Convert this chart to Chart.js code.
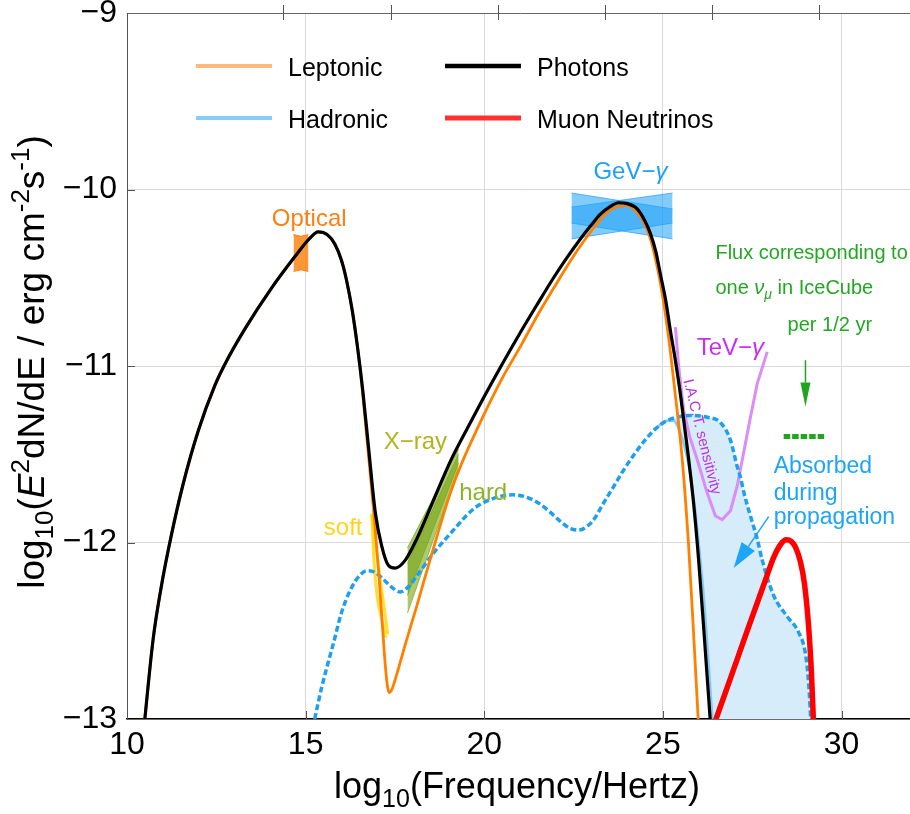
<!DOCTYPE html>
<html>
<head>
<meta charset="utf-8">
<title>Spectral energy distribution</title>
<script src="https://cdn.jsdelivr.net/npm/chart.js@4.4.1/dist/chart.umd.min.js"></script>
<style>
  html, body { margin: 0; padding: 0; background: #fff; overflow: hidden; }
</style>
</head>
<body>
<canvas id="sed" width="913" height="814"></canvas>
<script>
const FONT = "'Liberation Sans', Arial, Helvetica, sans-serif";

// axis ticks
const xTicks = [10, 15, 20, 25, 30];
const yTicks = [-13, -12, -11, -10, -9];
// photon energy decades (1 eV, 1 keV, 1 MeV ...) marked along the top edge
const energyTicks = [14.38, 17.38, 20.38, 23.38, 26.38, 29.38];

// model curves, [log10(nu/Hz), log10(E^2 dN/dE)]
const photons = [
  [10.45, -13.10], [10.73, -12.55], [10.96, -12.25], [11.24, -11.96], [11.57, -11.67],
  [11.99, -11.37], [12.46, -11.11], [12.74, -10.99], [13.30, -10.79], [14.04, -10.56],
  [14.70, -10.38], [15.10, -10.28], [15.35, -10.24], [15.60, -10.255], [15.82, -10.31],
  [16.00, -10.40], [16.14, -10.51], [16.30, -10.68], [16.45, -10.89], [16.60, -11.14],
  [16.76, -11.46], [16.95, -11.83], [17.13, -12.02], [17.32, -12.13], [17.51, -12.145],
  [17.79, -12.10], [18.11, -11.98], [18.58, -11.76], [19.05, -11.54], [19.52, -11.355],
  [19.98, -11.18], [20.50, -10.99], [21.01, -10.81], [21.50, -10.645], [21.94, -10.50],
  [22.30, -10.39], [22.69, -10.28], [23.00, -10.20], [23.25, -10.14], [23.50, -10.10],
  [23.76, -10.075], [24.00, -10.08], [24.28, -10.11], [24.50, -10.18], [24.65, -10.25],
  [24.80, -10.35], [24.93, -10.48], [25.08, -10.63], [25.21, -10.80], [25.35, -10.97],
  [25.49, -11.16], [25.68, -11.46], [25.86, -11.78], [26.00, -12.10], [26.14, -12.48],
  [26.34, -13.05]
];
const leptonic = [
  [10.45, -13.10], [10.73, -12.55], [10.96, -12.25], [11.24, -11.96], [11.57, -11.67],
  [11.99, -11.37], [12.46, -11.11], [12.74, -10.99], [13.30, -10.79], [14.04, -10.56],
  [14.70, -10.38], [15.10, -10.28], [15.35, -10.24], [15.60, -10.255], [15.82, -10.31],
  [16.00, -10.40], [16.14, -10.51], [16.30, -10.68], [16.45, -10.89], [16.57, -11.10],
  [16.70, -11.38], [16.83, -11.66], [16.95, -11.93], [17.06, -12.21], [17.20, -12.62],
  [17.28, -12.80], [17.34, -12.85], [17.42, -12.83], [17.56, -12.74], [17.80, -12.57],
  [18.11, -12.36], [18.58, -12.03], [19.05, -11.72], [19.33, -11.57], [19.98, -11.28],
  [20.50, -11.07], [21.01, -10.89], [21.50, -10.71], [21.94, -10.56], [22.30, -10.44],
  [22.69, -10.32], [23.00, -10.235], [23.25, -10.17], [23.50, -10.12], [23.76, -10.095],
  [24.00, -10.09], [24.28, -10.13], [24.50, -10.20], [24.65, -10.28], [24.80, -10.40],
  [24.93, -10.53], [25.08, -10.72], [25.21, -10.92], [25.38, -11.22], [25.55, -11.55],
  [25.72, -12.02], [25.86, -12.52], [26.00, -13.05]
];
const hadronic = [
  [15.20, -13.05], [15.45, -12.82], [15.63, -12.68], [15.78, -12.57], [16.00, -12.40],
  [16.25, -12.27], [16.50, -12.19], [16.71, -12.16], [16.95, -12.17], [17.18, -12.21],
  [17.45, -12.26], [17.65, -12.28], [17.88, -12.25], [18.11, -12.19], [18.58, -12.06],
  [19.05, -11.95], [19.70, -11.81], [20.26, -11.75], [20.82, -11.73], [21.38, -11.76],
  [21.80, -11.82], [22.13, -11.88], [22.40, -11.92], [22.64, -11.93], [22.90, -11.905],
  [23.10, -11.86], [23.30, -11.79], [23.60, -11.69], [23.90, -11.59], [24.20, -11.50],
  [24.50, -11.42], [24.80, -11.355], [25.10, -11.31], [25.40, -11.29], [25.77, -11.28],
  [26.24, -11.29], [26.61, -11.32], [26.89, -11.42], [27.08, -11.57], [27.17, -11.63],
  [27.27, -11.72], [27.45, -11.85], [27.64, -11.98], [27.78, -12.10], [28.10, -12.30],
  [28.48, -12.42], [28.80, -12.51], [28.99, -12.63], [29.08, -12.80], [29.15, -13.05]
];
// hadronic photons surviving absorption
const hadronicAbsorbed = [
  [24.80, -11.355], [25.10, -11.31], [25.30, -11.31], [25.45, -11.36], [25.58, -11.44],
  [25.72, -11.56], [25.87, -11.76], [26.00, -12.00], [26.15, -12.32], [26.28, -12.68],
  [26.40, -13.05]
];
const neutrinos = [
  [26.40, -13.05], [26.60, -12.935], [26.89, -12.77], [27.36, -12.50], [27.83, -12.235],
  [28.11, -12.08], [28.30, -12.01], [28.45, -11.985], [28.60, -11.995], [28.72, -12.03],
  [28.85, -12.11], [28.96, -12.23], [29.08, -12.48], [29.16, -12.75], [29.22, -13.05]
];
const tevSensitivity = [
  [25.35, -10.78], [25.44, -11.00], [25.58, -11.25], [25.75, -11.40], [25.96, -11.53],
  [26.24, -11.72], [26.47, -11.85], [26.66, -11.87], [26.89, -11.82], [27.08, -11.68],
  [27.27, -11.48], [27.45, -11.29], [27.64, -11.10], [27.92, -10.92]
];

// observations: bow-ties given as upper / lower edges
const opticalTop = [[14.66, -10.255], [14.87, -10.265], [15.08, -10.255]];
const opticalBottom = [[14.66, -10.465], [14.87, -10.455], [15.08, -10.465]];
const softXrayA = [[16.84, -11.84], [17.30, -12.52]];
const softXrayB = [[16.86, -11.84], [16.90, -12.06], [17.24, -12.54]];
const hardXrayTopA = [[17.85, -12.03], [19.28, -11.47]];
const hardXrayBottomA = [[17.85, -12.30], [19.28, -11.55]];
const hardXrayTopB = [[17.85, -12.12], [19.28, -11.50]];
const hardXrayBottomB = [[17.85, -12.40], [19.28, -11.58]];
const gevTopA = [[22.44, -10.02], [25.27, -10.11]];
const gevBottomA = [[22.44, -10.19], [25.27, -10.28]];
const gevTopB = [[22.44, -10.10], [25.27, -10.02]];
const gevBottomB = [[22.44, -10.28], [25.27, -10.19]];
// one muon neutrino in IceCube per half year
const icecubeFlux = [[28.38, -11.40], [29.55, -11.40]];

const pts = arr => arr.map(([x, y]) => ({ x, y }));

// absorbed part: between the intrinsic hadronic curve and what survives
const absorbedUpper = hadronic.filter(p => p[0] >= 25.10);
const absorbedLower = hadronicAbsorbed.filter(p => p[0] >= 25.10).concat([[29.15, -13.05]]);

function curve(data, color, width, order, extra) {
  return Object.assign({
    data: pts(data), showLine: true, borderColor: color, borderWidth: width,
    pointRadius: 0, fill: false, order: order, cubicInterpolationMode: 'monotone'
  }, extra || {});
}
function band(top, bottom, fillColor, edgeColor, order) {
  return [
    { data: pts(top), showLine: true, borderColor: edgeColor, borderWidth: 1, pointRadius: 0,
      backgroundColor: fillColor, fill: '+1', order: order },
    { data: pts(bottom), showLine: true, borderColor: edgeColor, borderWidth: 1, pointRadius: 0,
      fill: false, order: order }
  ];
}

const datasets = [
  curve(absorbedUpper, 'rgba(0,0,0,0)', 0, 20, { backgroundColor: '#d6ecfb', fill: '+1' }),
  curve(absorbedLower, 'rgba(0,0,0,0)', 0, 20, { tension: 0 }),
  ...band(gevTopA, gevBottomA, 'rgba(30,160,245,0.55)', 'rgba(30,160,245,0.7)', 15),
  ...band(gevTopB, gevBottomB, 'rgba(30,160,245,0.55)', 'rgba(30,160,245,0.7)', 15),
  ...band(opticalTop, opticalBottom, 'rgba(255,120,0,0.78)', 'rgba(255,120,0,0.85)', 15),
  ...band(hardXrayTopA, hardXrayBottomA, 'rgba(120,165,20,0.6)', 'rgba(120,165,20,0.7)', 15),
  ...band(hardXrayTopB, hardXrayBottomB, 'rgba(120,165,20,0.6)', 'rgba(120,165,20,0.7)', 15),
  curve(softXrayA, 'rgba(255,215,0,0.8)', 3, 14, { tension: 0 }),
  curve(softXrayB, 'rgba(255,215,0,0.8)', 3, 14, { tension: 0 }),
  curve(tevSensitivity, '#dc8cf7', 3, 12, { tension: 0, cubicInterpolationMode: 'default' }),
  curve(hadronicAbsorbed, '#84c9f2', 2.5, 11),
  curve(hadronic, '#1ea0ee', 3.5, 10, { borderDash: [6, 3] }),
  curve(leptonic, '#ff7f00', 2.8, 6),
  curve(photons, '#000000', 3.2, 5),
  curve(neutrinos, '#ff0000', 5.5, 4),
  curve(icecubeFlux, '#1fa51f', 5, 3, { tension: 0, borderDash: [6.5, 2], borderCapStyle: 'butt' })
];

// text placed on the plot, anchored in data units
const notes = [
  { parts: [{ t: 'Optical' }], at: [15.10, -10.157], size: 24, color: '#ff7f11', align: 'center' },
  { parts: [{ t: 'GeV\u2212' }, { t: '\u03b3', it: true }], at: [24.09, -9.89], size: 24, color: '#1ea1f2', align: 'center' },
  { parts: [{ t: 'X\u2212ray' }], at: [18.07, -11.42], size: 24, color: '#b4b41e', align: 'center' },
  { parts: [{ t: 'hard' }], at: [19.97, -11.71], size: 24, color: '#8cb42d', align: 'center' },
  { parts: [{ t: 'soft' }], at: [16.05, -11.91], size: 24, color: '#ffd31f', align: 'center' },
  { parts: [{ t: 'TeV\u2212' }, { t: '\u03b3', it: true }], at: [26.89, -10.89], size: 24, color: '#cc2ef0', align: 'center' },
  { parts: [{ t: 'I.A.C.T. sensitivity' }], at: [26.12, -11.40], size: 15, color: '#c030e0', align: 'center', angle: 76 },
  { parts: [{ t: 'Flux corresponding to' }], at: [26.47, -10.355], size: 20, color: '#22a822', align: 'left' },
  { parts: [{ t: 'one ' }, { t: '\u03bd', it: true }, { t: '\u03bc', it: true, sub: true }, { t: ' in IceCube' }], at: [26.47, -10.553], size: 20, color: '#22a822', align: 'left' },
  { parts: [{ t: 'per 1/2 yr' }], at: [28.49, -10.763], size: 20, color: '#22a822', align: 'left' },
  { parts: [{ t: 'Absorbed' }], at: [28.10, -11.56], size: 23, color: '#1ea5f5', align: 'left' },
  { parts: [{ t: 'during' }], at: [28.10, -11.71], size: 23, color: '#1ea5f5', align: 'left' },
  { parts: [{ t: 'propagation' }], at: [28.10, -11.85], size: 23, color: '#1ea5f5', align: 'left' }
];
const arrows = [
  { from: [28.99, -10.967], to: [28.99, -11.23], head: 24, half: 5, color: '#1fa51f', width: 1.5 },
  { from: [27.96, -11.853], to: [26.98, -12.145], head: 26, half: 8, color: '#1ea5f5', width: 1.5 }
];
const legendItems = [
  { label: 'Leptonic', color: '#fdb97c', width: 4, col: 0, row: 0 },
  { label: 'Hadronic', color: '#86cdf9', width: 4, col: 0, row: 1 },
  { label: 'Photons', color: '#000000', width: 4.5, col: 1, row: 0 },
  { label: 'Muon Neutrinos', color: '#ff3030', width: 5, col: 1, row: 1 }
];

function drawParts(ctx, parts, x, y, size, color, align) {
  const fontFor = p => (p.it ? 'italic ' : '') + ((p.sub || p.sup) ? Math.round(size * 0.7) : size) + 'px ' + FONT;
  let w = 0;
  for (const p of parts) { ctx.font = fontFor(p); w += ctx.measureText(p.t).width; }
  let cx = align === 'center' ? x - w / 2 : align === 'right' ? x - w : x;
  const base = y + size * 0.36;
  ctx.fillStyle = color;
  ctx.textAlign = 'left';
  ctx.textBaseline = 'alphabetic';
  for (const p of parts) {
    ctx.font = fontFor(p);
    const dy = p.sup ? -size * 0.42 : p.sub ? size * 0.24 : 0;
    ctx.fillText(p.t, cx, base + dy);
    cx += ctx.measureText(p.t).width;
  }
}

function drawArrow(ctx, x0, y0, x1, y1, head, half, color, width) {
  const a = Math.atan2(y1 - y0, x1 - x0);
  const bx = x1 - head * Math.cos(a), by = y1 - head * Math.sin(a);
  ctx.strokeStyle = color;
  ctx.fillStyle = color;
  ctx.lineWidth = width;
  ctx.beginPath();
  ctx.moveTo(x0, y0);
  ctx.lineTo(bx, by);
  ctx.stroke();
  ctx.beginPath();
  ctx.moveTo(x1, y1);
  ctx.lineTo(bx + half * Math.sin(a), by - half * Math.cos(a));
  ctx.lineTo(bx - half * Math.sin(a), by + half * Math.cos(a));
  ctx.closePath();
  ctx.fill();
}

// inward tick marks, top frame, labels, legend and axis titles
const decorations = {
  id: 'decorations',
  afterDatasetsDraw(chart) {
    const { ctx, chartArea: area, scales } = chart;
    const x = scales.x, y = scales.y, top = scales.xTop;
    ctx.save();

    ctx.lineWidth = 1;
    ctx.beginPath();
    for (const v of xTicks) {
      if (v <= x.min) continue;
      const px = Math.round(x.getPixelForValue(v)) + 0.5;
      ctx.moveTo(px, area.bottom); ctx.lineTo(px, area.bottom - 8);
    }
    for (const v of yTicks) {
      if (v <= y.min || v >= y.max) continue;
      const py = Math.round(y.getPixelForValue(v)) + 0.5;
      ctx.moveTo(area.left, py); ctx.lineTo(area.left + 8, py);
    }
    for (const t of top.ticks) {
      const px = Math.round(top.getPixelForValue(t.value)) + 0.5;
      ctx.moveTo(px, area.top - 8); ctx.lineTo(px, area.top + 7);
    }
    ctx.strokeStyle = '#555';
    ctx.stroke();

    for (const n of notes) {
      const px = x.getPixelForValue(n.at[0]);
      const py = y.getPixelForValue(n.at[1]);
      ctx.save();
      ctx.translate(px, py);
      if (n.angle) ctx.rotate(n.angle * Math.PI / 180);
      drawParts(ctx, n.parts, 0, 0, n.size, n.color, n.align);
      ctx.restore();
    }

    for (const a of arrows) {
      drawArrow(ctx, x.getPixelForValue(a.from[0]), y.getPixelForValue(a.from[1]),
        x.getPixelForValue(a.to[0]), y.getPixelForValue(a.to[1]), a.head, a.half, a.color, a.width);
    }

    for (const item of legendItems) {
      const lx = area.left + (item.col ? 318 : 69);
      const ly = area.top + (item.row ? 105 : 53);
      ctx.strokeStyle = item.color;
      ctx.lineWidth = item.width;
      ctx.beginPath();
      ctx.moveTo(lx, ly); ctx.lineTo(lx + 76, ly);
      ctx.stroke();
      drawParts(ctx, [{ t: item.label }], lx + 92, ly + 1, 25, '#000', 'left');
    }

    drawParts(ctx, [{ t: 'log' }, { t: '10', sub: true }, { t: '(Frequency/Hertz)' }],
      (area.left + area.right) / 2 - 3, 785, 36, '#000', 'center');

    ctx.translate(31, (area.top + area.bottom) / 2 - 4);
    ctx.rotate(-Math.PI / 2);
    drawParts(ctx, [{ t: 'log' }, { t: '10', sub: true }, { t: '(' }, { t: 'E', it: true }, { t: '2', sup: true },
      { t: 'dN/dE / erg cm' }, { t: '-2', sup: true }, { t: 's' }, { t: '-1', sup: true }, { t: ')' }],
      0, 0, 37, '#000', 'center');
    ctx.restore();
  }
};

const fmt = v => (v < 0 ? '\u2212' + Math.abs(v) : String(v));
// let the outer tick labels hang over the edges instead of shrinking the plot
const noEdgePadding = s => { s.paddingTop = 0; s.paddingBottom = 0; s.paddingLeft = 0; s.paddingRight = 0; };

new Chart(document.getElementById('sed'), {
  type: 'scatter',
  data: { datasets: datasets },
  options: {
    responsive: false,
    animation: false,
    devicePixelRatio: 1,
    events: [],
    layout: { padding: 0 },
    plugins: { legend: { display: false }, tooltip: { enabled: false } },
    scales: {
      x: {
        type: 'linear', position: 'bottom', min: 10, max: 32,
        afterBuildTicks: s => { s.ticks = xTicks.map(v => ({ value: v })); },
        afterFit: s => { s.height = 95; noEdgePadding(s); },
        ticks: { callback: fmt, color: '#000', padding: 7, maxRotation: 0, font: { size: 32, family: FONT } },
        grid: { color: '#d9d9d9', lineWidth: 1, drawTicks: false },
        border: { color: '#000', width: 1.5 }
      },
      xTop: {
        type: 'linear', position: 'top', min: 10, max: 32,
        afterBuildTicks: s => { s.ticks = energyTicks.map(v => ({ value: v })); },
        afterFit: s => { s.height = 13; noEdgePadding(s); },
        ticks: { display: false },
        grid: { display: false, drawTicks: false },
        border: { color: '#666', width: 1 }
      },
      y: {
        type: 'linear', position: 'left', min: -13, max: -9,
        afterBuildTicks: s => { s.ticks = yTicks.map(v => ({ value: v })); },
        afterFit: s => { s.width = 127; noEdgePadding(s); },
        ticks: { callback: fmt, color: '#000', padding: 10, font: { size: 32, family: FONT } },
        grid: { color: '#d9d9d9', lineWidth: 1, drawTicks: false },
        border: { color: '#555', width: 1 }
      }
    }
  },
  plugins: [decorations]
});
</script>
</body>
</html>
